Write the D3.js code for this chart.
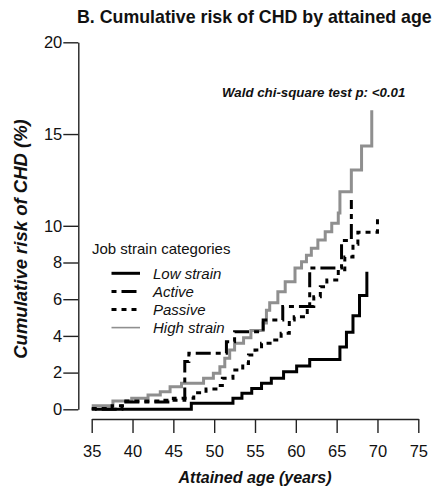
<!DOCTYPE html>
<html>
<head>
<meta charset="utf-8">
<script src="https://cdn.jsdelivr.net/npm/d3@7"></script>
<style>
body { margin: 0; background: #fff; }
text { font-family: Arial, "Liberation Sans", sans-serif; fill: #111; }
</style>
</head>
<body>
<script>

var w = 433;
var h = 496;

var categories = ["Low strain", "Active", "Passive", "High strain"];
var xTicks = [35, 40, 45, 50, 55, 60, 65, 70, 75];
var yTicks = [0, 2, 4, 6, 8, 10, 15, 20];

// [attained age, cumulative risk %]
var lowStrain = [
	[35.4, 0], [47.2, 0.33], [52.3, 0.6], [53.4, 0.87], [54.6, 1.14], [55.8, 1.42],
	[57.0, 1.69], [58.5, 2.05], [60.1, 2.36], [61.7, 2.72], [65.4, 3.4], [66.2, 4.2],
	[67.0, 5.1], [67.8, 6.2], [68.7, 7.5]
];
var active = [
	[35.0, 0], [38.7, 0.4], [44.6, 0.5], [46.4, 2.6], [46.9, 3.05], [51.5, 3.68],
	[52.5, 4.23], [56.0, 4.87], [58.4, 5.6], [61.7, 7.7], [65.6, 9.2], [66.8, 11.4]
];
var passive = [
	[35.0, 0.05], [37.5, 0.2], [39.0, 0.45], [43.5, 0.5], [45.0, 0.6], [47.5, 0.9],
	[49.0, 1.1], [50.5, 1.3], [51.0, 1.69], [52.3, 2.14], [53.5, 2.5], [54.2, 2.96],
	[55.0, 3.23], [55.8, 3.6], [57.2, 3.78], [58.2, 4.14], [59.2, 4.87], [59.8, 5.05],
	[61.4, 5.6], [62.2, 6.14], [63.0, 6.68], [63.8, 7.05], [65.2, 7.6], [66.0, 8.3],
	[67.0, 9.0], [67.6, 9.65], [70.0, 10.4]
];
var highStrain = [
	[35.0, 0.2], [37.6, 0.45], [39.9, 0.6], [41.9, 0.78], [43.4, 0.96], [44.6, 1.23],
	[46.0, 1.42], [48.7, 1.69], [49.9, 1.96], [50.7, 2.32], [51.3, 2.78], [51.9, 3.23],
	[52.5, 3.6], [53.6, 3.9], [54.5, 4.3], [56.0, 4.7], [56.4, 5.4], [56.8, 5.8],
	[57.8, 6.4], [58.7, 6.95], [59.9, 7.7], [60.7, 8.04], [61.3, 8.4], [61.9, 8.77],
	[62.7, 9.23], [63.6, 9.68], [64.4, 10.14], [65.2, 10.7], [65.4, 11.86], [66.8, 13.04],
	[68.05, 14.35], [69.3, 16.3]
];

var seriesData = [lowStrain, active, passive, highStrain];

// styles per category (same order)
var colors = ["#000", "#000", "#000", "#8f8f8f"];
var widths = [3, 3, 3, 3];
var legendWidths = [3, 3, 3, 1.6];
var dashes = [null, "5,5,15,5", "5,5", null];

var svg = d3.select("body")
			.append("svg")
			.attr("width", w)
			.attr("height", h);

var xScale = d3.scaleLinear()
				.domain([35, 75])
				.range([91.7, 418.3]);

var yScale = d3.scaleLinear()
				.domain([0, 20])
				.range([409.3, 42.3]);

// title
svg.append("text")
	.attr("x", 77)
	.attr("y", 23)
	.attr("font-size", "17.8px")
	.attr("font-weight", "bold")
	.text("B. Cumulative risk of CHD by attained age");

// axes
var xAxis = d3.axisBottom(xScale)
			.tickValues(xTicks)
			.tickSize(14)
			.tickSizeOuter(0)
			.tickPadding(12);

var gx = svg.append("g")
	.attr("transform", "translate(0, 419)")
	.call(xAxis);

var yAxis = d3.axisLeft(yScale)
			.tickValues(yTicks)
			.tickSize(15)
			.tickSizeOuter(0)
			.tickPadding(1);

var gy = svg.append("g")
	.attr("transform", "translate(78.3, 0)")
	.call(yAxis);

[gx, gy].forEach(g => {
	g.selectAll("path, line")
		.attr("stroke", "#222")
		.attr("stroke-width", 1.4);
	g.selectAll("text")
		.attr("font-size", "16.5px")
		.attr("font-family", "Arial, 'Liberation Sans', sans-serif")
		.attr("fill", "#111");
});

// axis titles
svg.append("text")
	.attr("x", 255)
	.attr("y", 483)
	.attr("text-anchor", "middle")
	.attr("font-size", "16px")
	.attr("font-weight", "bold")
	.attr("font-style", "italic")
	.text("Attained age (years)");

svg.append("text")
	.attr("transform", "translate(27, 239) rotate(-90)")
	.attr("text-anchor", "middle")
	.attr("font-size", "18.5px")
	.attr("font-weight", "bold")
	.attr("font-style", "italic")
	.text("Cumulative risk of CHD (%)");

svg.append("text")
	.attr("x", 222)
	.attr("y", 97)
	.attr("font-size", "13.3px")
	.attr("font-weight", "bold")
	.attr("font-style", "italic")
	.text("Wald chi-square test p: <0.01");

// step curves
var line = d3.line()
			.x(d => xScale(d[0]))
			.y(d => yScale(d[1]))
			.curve(d3.curveStepAfter);

var drawOrder = [3, 2, 1, 0];

svg.selectAll(".km")
	.data(drawOrder)
	.enter()
	.append("path")
	.attr("class", "km")
	.attr("d", i => line(seriesData[i]))
	.attr("fill", "none")
	.attr("stroke", i => colors[i])
	.attr("stroke-width", i => widths[i])
	.attr("stroke-dasharray", i => dashes[i]);

// legend
svg.append("text")
	.attr("x", 92)
	.attr("y", 254)
	.attr("font-size", "15px")
	.text("Job strain categories");

var legend = svg.selectAll(".leg")
	.data(categories)
	.enter()
	.append("g")
	.attr("class", "leg")
	.attr("transform", (d, i) => `translate(0, ${273.3 + i * 18.1})`);

legend.append("line")
	.attr("x1", 111.5)
	.attr("x2", 140)
	.attr("stroke", (d, i) => colors[i])
	.attr("stroke-width", (d, i) => legendWidths[i])
	.attr("stroke-dasharray", (d, i) => dashes[i]);

legend.append("text")
	.attr("x", 153)
	.attr("y", 5.5)
	.attr("font-size", "15px")
	.attr("font-style", "italic")
	.text(d => d);

</script>
</body>
</html>
